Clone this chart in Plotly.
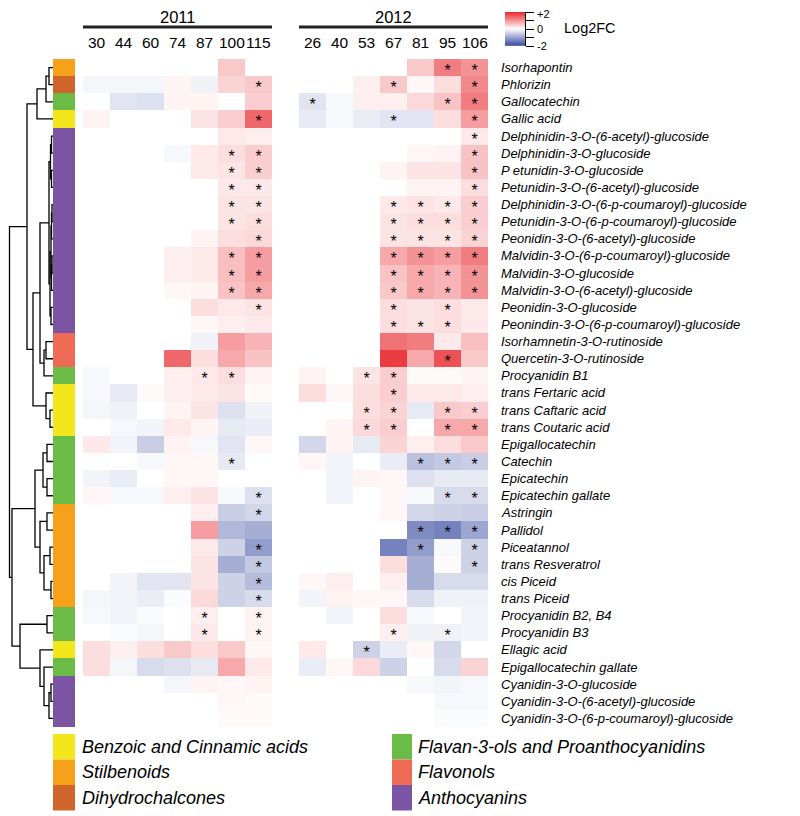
import plotly.graph_objects as go
import numpy as np

# The page body adds an 8px margin, so the figure is drawn 8px in from the corner.
OFF = 8
W, H = 800 - OFF, 816 - OFF

compounds = [
    "Isorhapontin", "Phlorizin", "Gallocatechin", "Gallic acid",
    "Delphinidin-3-O-(6-acetyl)-glucoside", "Delphinidin-3-O-glucoside",
    "P etunidin-3-O-glucoside", "Petunidin-3-O-(6-acetyl)-glucoside",
    "Delphinidin-3-O-(6-p-coumaroyl)-glucoside", "Petunidin-3-O-(6-p-coumaroyl)-glucoside",
    "Peonidin-3-O-(6-acetyl)-glucoside", "Malvidin-3-O-(6-p-coumaroyl)-glucoside",
    "Malvidin-3-O-glucoside", "Malvidin-3-O-(6-acetyl)-glucoside",
    "Peonidin-3-O-glucoside", "Peonindin-3-O-(6-p-coumaroyl)-glucoside",
    "Isorhamnetin-3-O-rutinoside", "Quercetin-3-O-rutinoside", "Procyanidin B1",
    "trans Fertaric acid", "trans Caftaric acid", "trans Coutaric acid",
    "Epigallocatechin", "Catechin", "Epicatechin", "Epicatechin gallate",
    "Astringin", "Pallidol", "Piceatannol", "trans Resveratrol", "cis Piceid",
    "trans Piceid", "Procyanidin B2, B4", "Procyanidin B3", "Ellagic acid",
    "Epigallocatechin gallate", "Cyanidin-3-O-glucoside",
    "Cyanidin-3-O-(6-acetyl)-glucoside", "Cyanidin-3-O-(6-p-coumaroyl)-glucoside",
]

category_names = ["Benzoic and Cinnamic acids", "Stilbenoids", "Dihydrochalcones",
                  "Flavan-3-ols and Proanthocyanidins", "Flavonols", "Anthocyanins"]
category_colors = ["#F4E61D", "#F7A11A", "#CF6528", "#6BBC46", "#F06B56", "#7B54A3"]

compound_category = [1, 2, 3, 0] + [5] * 12 + [4, 4, 3, 0, 0, 0, 3, 3, 3, 3] + \
    [1] * 6 + [3, 3, 0, 3, 5, 5, 5]

cols_2011 = ["30", "44", "60", "74", "87", "100", "115"]
cols_2012 = ["26", "40", "53", "67", "81", "95", "106"]

key_ticks = [-2, -1, 0, 1, 2]
key_labels = ["-2", "", "0", "", "+2"]

log2fc_2011 = [
    [0, 0, 0, 0, 0, 0.5, 0],
    [-0.1, -0.1, -0.1, 0.1, -0.15, 0.4, 0.5],
    [0, -0.3, -0.35, 0.1, 0.1, 0, 0.45],
    [0.1, 0, 0, 0, 0.25, 0.45, 1.4],
    [0, 0, 0, 0, 0, 0.2, 0.15],
    [0, 0, 0, -0.08, 0.2, 0.3, 0.45],
    [0, 0, 0, 0, 0.2, 0.25, 0.45],
    [0, 0, 0, 0, 0, 0.2, 0.2],
    [0, 0, 0, 0, 0, 0.25, 0.25],
    [0, 0, 0, 0, 0, 0.25, 0.3],
    [0, 0, 0, 0, 0.1, 0.3, 0.35],
    [0, 0, 0, 0.15, 0.2, 0.6, 0.9],
    [0, 0, 0, 0.15, 0.2, 0.6, 0.9],
    [0, 0, 0, 0.08, 0.1, 0.55, 0.8],
    [0, 0, 0, 0, 0.3, 0.2, 0.25],
    [0, 0, 0, 0, 0.08, 0.15, 0.2],
    [0, 0, 0, 0, -0.15, 0.9, 0.7],
    [0, 0, 0, 1.4, 0.3, 0.8, 0.55],
    [-0.08, 0, 0, 0.15, 0.2, 0.3, 0.12],
    [-0.08, -0.25, 0.05, 0.15, 0.2, 0.25, 0.05],
    [-0.1, -0.15, 0, 0.1, 0.25, -0.35, -0.15],
    [0, -0.08, -0.12, 0.2, 0.1, -0.25, -0.2],
    [0.2, -0.12, -0.55, 0.12, -0.08, -0.3, 0.08],
    [0, 0, -0.08, 0.08, 0.08, -0.25, 0],
    [-0.12, -0.2, 0, 0.08, 0.08, 0, 0],
    [0.08, -0.08, -0.08, 0.15, 0.25, -0.08, -0.35],
    [0, 0, 0, 0, 0.15, -0.55, -0.45],
    [0, 0, 0, 0, 0.9, -0.8, -0.9],
    [0, 0, 0, 0, 0.2, -0.5, -1.1],
    [0, 0, 0, 0, 0.25, -0.9, -0.6],
    [0, -0.12, -0.3, -0.3, 0.25, -0.5, -0.75],
    [-0.1, -0.12, -0.2, -0.05, 0.35, -0.5, -0.4],
    [-0.08, -0.12, -0.05, 0, 0.15, 0, 0.12],
    [0, -0.05, -0.1, 0, 0.2, 0, 0.12],
    [0.3, 0.15, 0.3, 0.5, 0.3, 0.5, 0.08],
    [0.3, -0.1, -0.4, -0.35, -0.25, 0.8, 0.2],
    [0, 0, 0, -0.1, 0.1, 0.08, 0.12],
    [0, 0, 0, 0, 0, 0.08, 0.05],
    [0, 0, 0, 0, 0, 0.05, 0.05],
]

log2fc_2012 = [
    [0, 0, 0, 0, 0.5, 1.2, 1.0],
    [0, 0, 0.15, 0.5, 0.08, 0.3, 1.1],
    [-0.3, -0.08, 0.15, 0.15, 0.35, 0.55, 1.2],
    [-0.25, -0.08, -0.2, -0.3, -0.3, 0.3, 0.9],
    [0, 0, 0, 0, 0, 0, 0.2],
    [0, 0, 0, 0, 0.08, 0.12, 0.55],
    [0, 0, 0, 0.1, 0.25, 0.25, 0.55],
    [0, 0, 0, 0, 0.12, 0.12, 0.3],
    [0, 0, 0, 0.2, 0.25, 0.2, 0.45],
    [0, 0, 0, 0.25, 0.3, 0.3, 0.45],
    [0, 0, 0, 0.25, 0.25, 0.25, 0.4],
    [0, 0, 0, 0.8, 1.0, 0.9, 1.2],
    [0, 0, 0, 0.55, 0.8, 0.7, 1.0],
    [0, 0, 0, 0.5, 0.8, 0.7, 1.0],
    [0, 0, 0, 0.3, 0.25, 0.3, 0.2],
    [0, 0, 0, 0.3, 0.25, 0.3, 0.2],
    [0, 0, 0, 1.3, 1.2, 0.2, 0.6],
    [0, 0, 0, 1.8, 0.8, 1.6, 0.5],
    [0.1, 0, 0.25, 0.45, 0.05, 0.05, 0.1],
    [0.3, 0.08, 0.3, 0.45, 0.2, 0.2, 0.15],
    [0, 0, 0.3, 0.4, -0.25, 0.5, 0.45],
    [0, 0.1, 0.35, 0.45, 0, 0.8, 0.8],
    [-0.45, 0.1, -0.25, 0.4, 0.15, 0.3, 0.5],
    [0.08, -0.12, 0, -0.2, -0.7, -0.6, -0.55],
    [0, -0.12, 0.1, 0.08, -0.35, -0.25, -0.25],
    [0, -0.12, 0, 0.08, -0.08, -0.4, -0.4],
    [0, 0, 0, 0.08, -0.45, -0.5, -0.55],
    [0, 0, 0, 0, -1.3, -1.4, -1.0],
    [0, 0, 0, -1.4, -1.1, -0.08, -0.5],
    [0, 0, 0, 0.3, -0.9, 0.05, -0.5],
    [0.08, 0.15, 0, 0.15, -0.9, -0.4, -0.4],
    [-0.12, 0.12, 0.08, 0.08, -0.4, -0.15, -0.15],
    [0, -0.12, 0, 0.3, -0.08, 0, -0.12],
    [0, 0, 0, 0.15, -0.15, -0.15, -0.12],
    [0.2, 0, -0.5, -0.2, 0.08, -0.45, 0],
    [-0.2, 0.08, 0.35, -0.5, 0, -0.4, 0.4],
    [0, 0, 0, 0, -0.08, -0.12, -0.08],
    [0, 0, 0, 0, 0, -0.08, -0.08],
    [0, 0, 0, 0, 0, -0.05, -0.05],
]

sig_2011 = [
    "0000000", "0000001", "0000000", "0000001", "0000000", "0000011", "0000011",
    "0000011", "0000011", "0000011", "0000001", "0000011", "0000011", "0000011",
    "0000001", "0000000", "0000000", "0000000", "0000110", "0000000", "0000000",
    "0000000", "0000000", "0000010", "0000000", "0000001", "0000001", "0000000",
    "0000001", "0000001", "0000001", "0000001", "0000101", "0000101", "0000000",
    "0000000", "0000000", "0000000", "0000000",
]
sig_2012 = [
    "0000011", "0001001", "1000011", "0001001", "0000001", "0000001", "0000001",
    "0000001", "0001111", "0001111", "0001111", "0001111", "0001111", "0001111",
    "0001010", "0001110", "0000000", "0000010", "0011000", "0001000", "0011011",
    "0011011", "0000000", "0000111", "0000000", "0000011", "0000000", "0000111",
    "0000101", "0000001", "0000000", "0000000", "0000000", "0001010", "0010000",
    "0000000", "0000000", "0000000", "0000000",
]

# dendrogram merges: (child_a, child_b, join height as page x position)
dendro_merges = [
    (0, 1, 49), ("m0", 2, 46), ("m1", 3, 37),
    (4, 5, 51.5), (6, 7, 51.5), ("m3", "m4", 50.5), (8, 9, 52), ("m6", 10, 51.5),
    (11, 12, 52), ("m8", 13, 51.5), ("m7", "m9", 51), (14, 15, 51),
    ("m10", "m11", 50), ("m5", "m12", 49),
    (16, 17, 46), ("m14", 18, 44), ("m13", "m15", 40),
    (20, 21, 50), (19, "m17", 46), ("m16", "m18", 33), ("m2", "m19", 27),
    (22, 23, 47), (24, 25, 47), ("m21", "m22", 43),
    (26, 27, 47), (28, 29, 50), (30, 31, 51), ("m25", "m26", 44), ("m24", "m27", 40),
    ("m23", "m28", 35),
    (32, 33, 47), (36, 37, 51), ("m31", 38, 49), (35, "m32", 44), (34, "m33", 40),
    ("m30", "m34", 20), ("m29", "m35", 12), ("m20", "m36", 9.5),
]

n = len(compounds)
LEAF_X = 53


def fx(px):
    return (px - OFF) / W


def fy(py):
    return 1 - (py - OFF) / H


Y_TOP, Y_BOT = 59, 727
ydom = [fy(Y_BOT), fy(Y_TOP)]
colorscale = [[0, "#3B4CA0"], [0.5, "#FFFFFF"], [1, "#E8262C"]]
sans = "Liberation Sans, Arial, sans-serif"

fig = go.Figure()

# dendrogram
pos = {}
for i in range(n):
    pos[i] = (LEAF_X, i)
dx, dy = [], []
for k, (a, b, h) in enumerate(dendro_merges):
    pa = pos[a]
    pb = pos[b]
    dx += [pa[0], h, h, pb[0], None]
    dy += [pa[1], pa[1], pb[1], pb[1], None]
    pos["m%d" % k] = (h, (pa[1] + pb[1]) / 2)
fig.add_trace(go.Scatter(x=dx, y=dy, mode="lines", line=dict(color="black", width=1.3),
                         xaxis="x", yaxis="y", hoverinfo="skip", showlegend=False,
                         cliponaxis=False))

# category bar
ncat = len(category_colors)
cat_scale = []
for i, c in enumerate(category_colors):
    cat_scale.append([i / ncat, c])
    cat_scale.append([(i + 1) / ncat, c])
fig.add_trace(go.Heatmap(z=[[c] for c in compound_category], x=[0], y=list(range(n)),
                         colorscale=cat_scale, zmin=-0.5, zmax=ncat - 0.5, showscale=False,
                         xaxis="x2", yaxis="y"))

# heatmaps + significance stars
for axname, vals, sig in (("x3", log2fc_2011, sig_2011), ("x4", log2fc_2012, sig_2012)):
    fig.add_trace(go.Heatmap(z=vals, x=list(range(7)), y=list(range(n)),
                             colorscale=colorscale, zmin=-2, zmax=2, showscale=False,
                             xaxis=axname, yaxis="y"))
    sx, sy = [], []
    for r in range(n):
        for c in range(7):
            if sig[r][c] == "1":
                sx.append(c)
                sy.append(r + 0.26)
    fig.add_trace(go.Scatter(x=sx, y=sy, mode="text", text=["*"] * len(sx),
                             textfont=dict(size=16, color="black", family=sans),
                             xaxis=axname, yaxis="y", hoverinfo="skip", showlegend=False))

# colour key
grad = np.linspace(-2, 2, 81)
fig.add_trace(go.Heatmap(z=[[v] for v in grad], x=[0], y=grad, colorscale=colorscale,
                         zmin=-2, zmax=2, showscale=False, xaxis="x5", yaxis="y2"))

hide = dict(showgrid=False, zeroline=False, showticklabels=False, ticks="", showline=False)
fig.update_layout(
    width=W, height=H, margin=dict(l=0, r=0, t=0, b=0),
    paper_bgcolor="white", plot_bgcolor="white",
    font=dict(family=sans, color="black"),
    xaxis=dict(domain=[0, fx(LEAF_X)], range=[OFF, LEAF_X], anchor="y", **hide),
    xaxis2=dict(domain=[fx(53), fx(75)], range=[-0.5, 0.5], anchor="y", **hide),
    xaxis3=dict(domain=[fx(83), fx(272)], range=[-0.5, 6.5], anchor="y", **hide),
    xaxis4=dict(domain=[fx(299), fx(488)], range=[-0.5, 6.5], anchor="y", **hide),
    yaxis=dict(domain=ydom, range=[n - 0.5, -0.5], anchor="x", **hide),
    xaxis5=dict(domain=[fx(505), fx(525)], range=[-0.5, 0.5], anchor="y2", **hide),
    yaxis2=dict(domain=[fy(46), fy(12)], range=[-2, 2], anchor="x5", side="right",
                showgrid=False, zeroline=False, showline=True, linecolor="black", linewidth=1,
                ticks="outside", ticklen=8, tickcolor="black", tickwidth=1,
                tickvals=key_ticks, showticklabels=False),
)

ann = []
shapes = []
for axname, cols, year, x0, x1 in (("x3", cols_2011, "2011", 83, 272),
                                    ("x4", cols_2012, "2012", 299, 488)):
    for i, lab in enumerate(cols):
        ann.append(dict(x=i, xref=axname, y=fy(42), yref="paper", text=lab, showarrow=False,
                        font=dict(size=15.5, family=sans), xanchor="center", yanchor="middle"))
    ann.append(dict(x=fx((x0 + x1) / 2), xref="paper", y=fy(17), yref="paper", text=year,
                    showarrow=False, font=dict(size=16.5, family=sans),
                    xanchor="center", yanchor="middle"))
    shapes.append(dict(type="line", xref="paper", yref="paper", x0=fx(x0), x1=fx(x1),
                       y0=fy(27), y1=fy(27), line=dict(color="#222222", width=3)))

# key tick labels
for v, lab in zip(key_ticks, key_labels):
    if lab:
        ann.append(dict(x=fx(535), xref="paper", y=v, yref="y2", text=lab, showarrow=False,
                        xanchor="left", yanchor="middle", yshift=-2 if v == 2 else 0,
                        font=dict(size=11, family=sans)))

for i, name in enumerate(compounds):
    ann.append(dict(x=fx(499), xref="paper", y=i, yref="y", text="<i>%s</i>" % name,
                    showarrow=False, xanchor="left", yanchor="middle",
                    font=dict(size=13, family=sans)))

ann.append(dict(x=fx(562), xref="paper", y=fy(28), yref="paper", text="Log2FC",
                showarrow=False, xanchor="left", yanchor="middle",
                font=dict(size=14.5, family=sans)))

# category legend
legend_pos = [(0, 53, 75, 80), (1, 53, 75, 80), (2, 53, 75, 80),
              (3, 392, 412, 416), (4, 392, 412, 416), (5, 392, 412, 416)]
for j, (ci, sx0, sx1, tx) in enumerate(legend_pos):
    r = j % 3
    y0 = 734 + r * 25.5
    y1 = y0 + 25.5
    shapes.append(dict(type="rect", xref="paper", yref="paper", x0=fx(sx0), x1=fx(sx1),
                       y0=fy(y1), y1=fy(y0), fillcolor=category_colors[ci],
                       line=dict(width=0)))
    ann.append(dict(x=fx(tx), xref="paper", y=fy((y0 + y1) / 2), yref="paper",
                    text="<i>%s</i>" % category_names[ci], showarrow=False,
                    xanchor="left", yanchor="middle", font=dict(size=18, family=sans)))

fig.update_layout(annotations=ann, shapes=shapes)
fig.write_html("out.html")
